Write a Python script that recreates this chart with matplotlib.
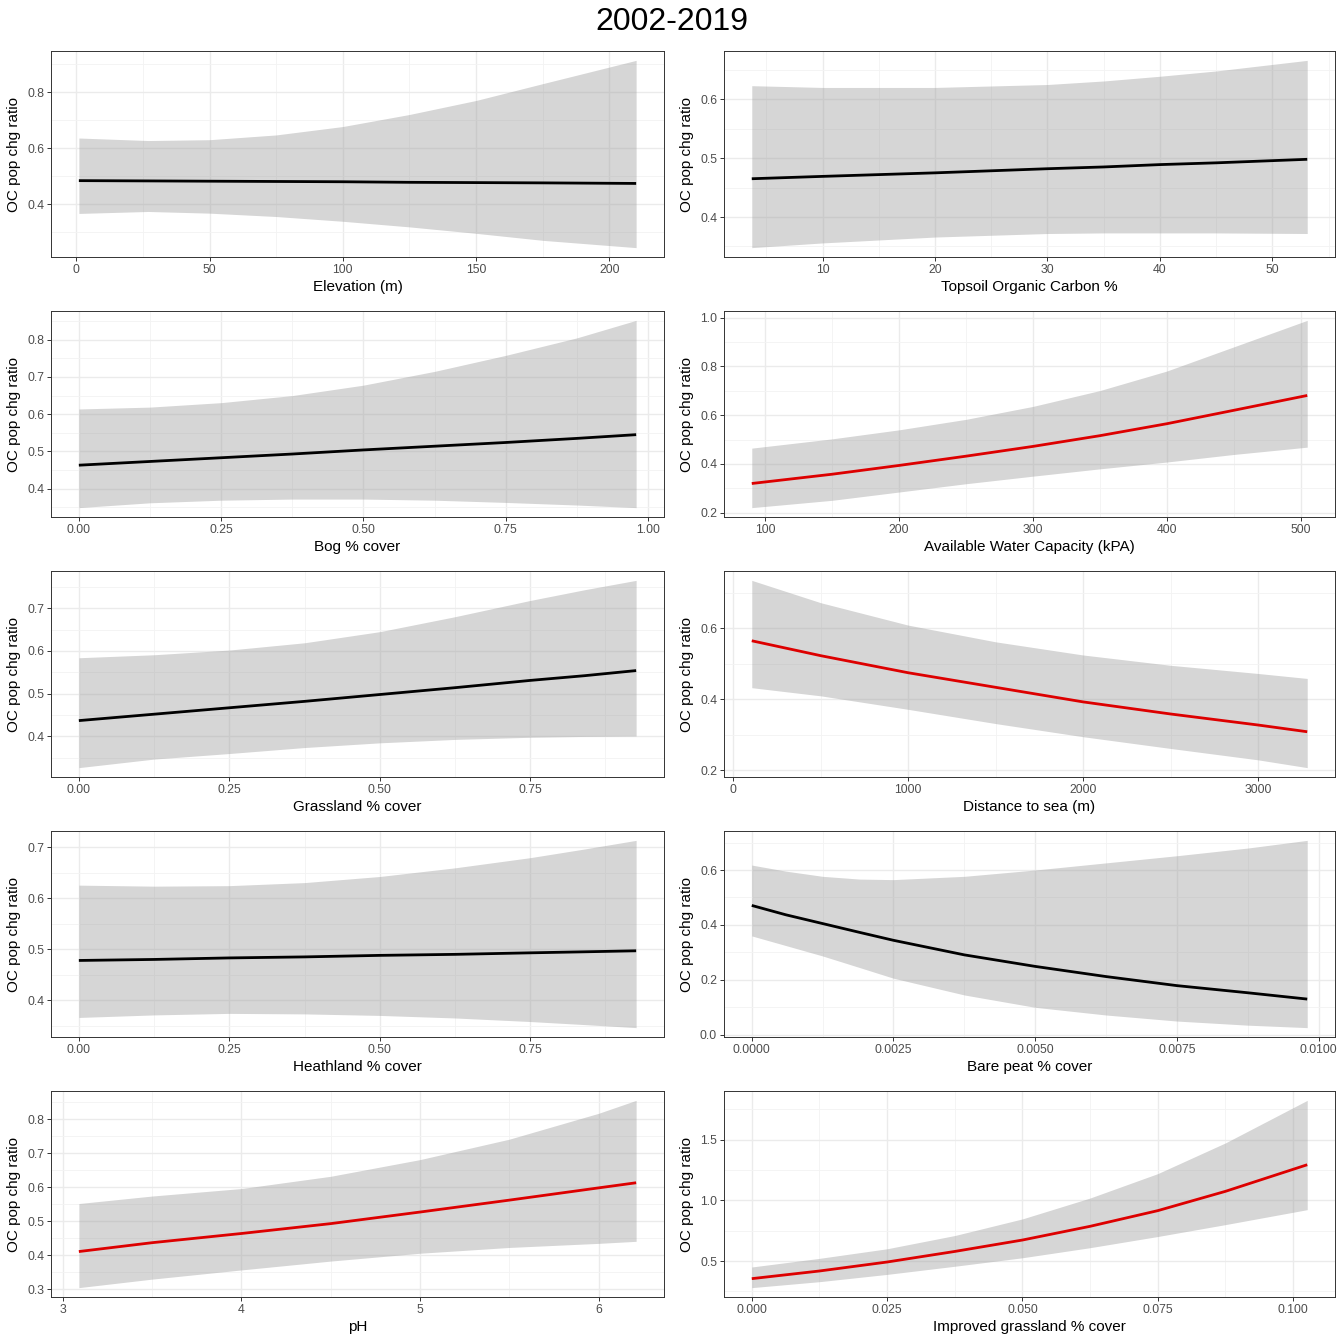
import numpy as np
import matplotlib
matplotlib.use("Agg")
import matplotlib.pyplot as plt
from matplotlib.ticker import FixedLocator, AutoMinorLocator

plt.rcParams['font.family'] = ['Liberation Sans', 'DejaVu Sans']

TITLE = "2002-2019"
YLAB = "OC pop chg ratio"

# ---- panel data ----
elev_x = [1, 27, 50, 75, 100, 125, 150, 175, 210]
elev_fit = [0.484, 0.483, 0.482, 0.481, 0.480, 0.478, 0.477, 0.476, 0.474]
elev_lo = [0.367, 0.374, 0.368, 0.356, 0.339, 0.319, 0.296, 0.271, 0.245]
elev_hi = [0.636, 0.627, 0.630, 0.647, 0.677, 0.720, 0.770, 0.830, 0.913]

toc_x = [3.7, 10, 20, 30, 35, 40, 45, 53.1]
toc_fit = [0.465, 0.469, 0.475, 0.482, 0.485, 0.489, 0.492, 0.498]
toc_lo = [0.348, 0.356, 0.366, 0.372, 0.373, 0.373, 0.373, 0.372]
toc_hi = [0.623, 0.620, 0.620, 0.625, 0.631, 0.639, 0.648, 0.666]

bog_x = [0, 0.125, 0.25, 0.375, 0.5, 0.625, 0.75, 0.875, 0.979]
bog_fit = [0.463, 0.473, 0.483, 0.493, 0.504, 0.514, 0.524, 0.535, 0.545]
bog_lo = [0.349, 0.362, 0.369, 0.372, 0.372, 0.369, 0.363, 0.356, 0.349]
bog_hi = [0.614, 0.619, 0.631, 0.650, 0.678, 0.715, 0.758, 0.805, 0.852]

awc_x = [90, 150, 200, 250, 300, 350, 400, 450, 505]
awc_fit = [0.320, 0.358, 0.394, 0.432, 0.472, 0.516, 0.565, 0.620, 0.681]
awc_lo = [0.221, 0.251, 0.285, 0.319, 0.350, 0.380, 0.408, 0.439, 0.469]
awc_hi = [0.465, 0.503, 0.540, 0.583, 0.636, 0.701, 0.781, 0.880, 0.989]

grass_x = [0, 0.125, 0.25, 0.375, 0.5, 0.625, 0.75, 0.84, 0.926]
grass_fit = [0.437, 0.452, 0.467, 0.482, 0.498, 0.514, 0.531, 0.542, 0.554]
grass_lo = [0.327, 0.347, 0.360, 0.374, 0.385, 0.393, 0.398, 0.400, 0.401]
grass_hi = [0.584, 0.591, 0.602, 0.619, 0.645, 0.680, 0.718, 0.743, 0.765]

sea_x = [105, 500, 1000, 1500, 2000, 2500, 3000, 3282]
sea_fit = [0.565, 0.523, 0.475, 0.434, 0.393, 0.359, 0.328, 0.309]
sea_lo = [0.433, 0.410, 0.372, 0.332, 0.295, 0.262, 0.230, 0.208]
sea_hi = [0.735, 0.672, 0.609, 0.562, 0.525, 0.496, 0.473, 0.459]

heath_x = [0, 0.125, 0.25, 0.375, 0.5, 0.625, 0.75, 0.84, 0.926]
heath_fit = [0.478, 0.480, 0.483, 0.485, 0.488, 0.490, 0.493, 0.495, 0.497]
heath_lo = [0.366, 0.371, 0.374, 0.373, 0.370, 0.365, 0.358, 0.352, 0.346]
heath_hi = [0.626, 0.624, 0.625, 0.631, 0.643, 0.660, 0.680, 0.697, 0.714]

peat_x = [0, 0.0006, 0.00125, 0.0019, 0.0025, 0.00375, 0.005, 0.00625, 0.0075, 0.00875, 0.0098]
peat_fit = [0.471, 0.437, 0.405, 0.373, 0.344, 0.291, 0.249, 0.212, 0.179, 0.153, 0.130]
peat_lo = [0.360, 0.325, 0.287, 0.245, 0.206, 0.145, 0.100, 0.072, 0.050, 0.035, 0.026]
peat_hi = [0.618, 0.596, 0.577, 0.567, 0.565, 0.577, 0.600, 0.626, 0.652, 0.680, 0.708]

ph_x = [3.09, 3.5, 4, 4.5, 5, 5.5, 6, 6.21]
ph_fit = [0.411, 0.437, 0.464, 0.493, 0.527, 0.562, 0.598, 0.613]
ph_lo = [0.305, 0.330, 0.357, 0.383, 0.406, 0.423, 0.435, 0.441]
ph_hi = [0.552, 0.574, 0.596, 0.632, 0.681, 0.741, 0.817, 0.855]

impg_x = [0, 0.0125, 0.025, 0.0375, 0.05, 0.0625, 0.075, 0.0875, 0.1026]
impg_fit = [0.355, 0.418, 0.492, 0.579, 0.673, 0.786, 0.915, 1.074, 1.293]
impg_lo = [0.281, 0.330, 0.390, 0.457, 0.527, 0.610, 0.702, 0.800, 0.923]
impg_hi = [0.451, 0.522, 0.601, 0.710, 0.847, 1.019, 1.220, 1.473, 1.823]

xlabels = ["Elevation (m)", "Topsoil Organic Carbon %", "Bog % cover",
           "Available Water Capacity (kPA)", "Grassland % cover", "Distance to sea (m)",
           "Heathland % cover", "Bare peat % cover", "pH", "Improved grassland % cover"]

xticks = [
    ([0, 50, 100, 150, 200], ["0", "50", "100", "150", "200"]),
    ([10, 20, 30, 40, 50], ["10", "20", "30", "40", "50"]),
    ([0, 0.25, 0.5, 0.75, 1.0], ["0.00", "0.25", "0.50", "0.75", "1.00"]),
    ([100, 200, 300, 400, 500], ["100", "200", "300", "400", "500"]),
    ([0, 0.25, 0.5, 0.75], ["0.00", "0.25", "0.50", "0.75"]),
    ([0, 1000, 2000, 3000], ["0", "1000", "2000", "3000"]),
    ([0, 0.25, 0.5, 0.75], ["0.00", "0.25", "0.50", "0.75"]),
    ([0, 0.0025, 0.005, 0.0075, 0.01], ["0.0000", "0.0025", "0.0050", "0.0075", "0.0100"]),
    ([3, 4, 5, 6], ["3", "4", "5", "6"]),
    ([0, 0.025, 0.05, 0.075, 0.1], ["0.000", "0.025", "0.050", "0.075", "0.100"]),
]

yticks = [
    ([0.4, 0.6, 0.8], ["0.4", "0.6", "0.8"]),
    ([0.4, 0.5, 0.6], ["0.4", "0.5", "0.6"]),
    ([0.4, 0.5, 0.6, 0.7, 0.8], ["0.4", "0.5", "0.6", "0.7", "0.8"]),
    ([0.2, 0.4, 0.6, 0.8, 1.0], ["0.2", "0.4", "0.6", "0.8", "1.0"]),
    ([0.4, 0.5, 0.6, 0.7], ["0.4", "0.5", "0.6", "0.7"]),
    ([0.2, 0.4, 0.6], ["0.2", "0.4", "0.6"]),
    ([0.4, 0.5, 0.6, 0.7], ["0.4", "0.5", "0.6", "0.7"]),
    ([0.0, 0.2, 0.4, 0.6], ["0.0", "0.2", "0.4", "0.6"]),
    ([0.3, 0.4, 0.5, 0.6, 0.7, 0.8], ["0.3", "0.4", "0.5", "0.6", "0.7", "0.8"]),
    ([0.5, 1.0, 1.5], ["0.5", "1.0", "1.5"]),
]

panels = [
    (elev_x, elev_fit, elev_lo, elev_hi),
    (toc_x, toc_fit, toc_lo, toc_hi),
    (bog_x, bog_fit, bog_lo, bog_hi),
    (awc_x, awc_fit, awc_lo, awc_hi),
    (grass_x, grass_fit, grass_lo, grass_hi),
    (sea_x, sea_fit, sea_lo, sea_hi),
    (heath_x, heath_fit, heath_lo, heath_hi),
    (peat_x, peat_fit, peat_lo, peat_hi),
    (ph_x, ph_fit, ph_lo, ph_hi),
    (impg_x, impg_fit, impg_lo, impg_hi),
]
# significant effects drawn in red
significant = [False, False, False, True, False, True, False, False, True, True]

W = 1344
fig = plt.figure(figsize=(13.44, 13.44), dpi=100)
fig.text(0.5, 1 - 22 / W, TITLE, ha="center", va="center", fontsize=23)

col_left = [51, 724]
col_width = [613, 611]
row_top = [51, 311, 571, 831, 1091]
ph = 206

for i, (x, fit, lo, hi) in enumerate(panels):
    r, c = divmod(i, 2)
    ax = fig.add_axes([col_left[c] / W, 1 - (row_top[r] + ph) / W,
                       col_width[c] / W, ph / W])
    ax.set_axisbelow(True)
    ax.fill_between(x, lo, hi, color="#999999", alpha=0.4, lw=0, zorder=2)
    ax.plot(x, fit, color="#DD0000" if significant[i] else "black", lw=2.0, zorder=3,
            solid_capstyle="butt")
    ax.margins(x=0.05, y=0.05)

    ax.xaxis.set_major_locator(FixedLocator(xticks[i][0]))
    ax.set_xticklabels(xticks[i][1])
    ax.yaxis.set_major_locator(FixedLocator(yticks[i][0]))
    ax.set_yticklabels(yticks[i][1])
    ax.xaxis.set_minor_locator(AutoMinorLocator(2))
    ax.yaxis.set_minor_locator(AutoMinorLocator(2))

    ax.grid(which="major", color="#EBEBEB", lw=1.0, zorder=0)
    ax.grid(which="minor", color="#F3F3F3", lw=0.6, zorder=0)
    ax.tick_params(which="major", length=3, width=0.7, color="#333333",
                   labelsize=8.8, labelcolor="#4D4D4D", pad=2)
    ax.tick_params(which="minor", length=0)
    for s in ax.spines.values():
        s.set_color("#333333")
        s.set_linewidth(0.7)

    ax.set_xlabel(xlabels[i], fontsize=11, labelpad=3)
    ax.set_ylabel(YLAB, fontsize=11, labelpad=4)

fig.savefig("out.png", dpi=100, facecolor="white")
